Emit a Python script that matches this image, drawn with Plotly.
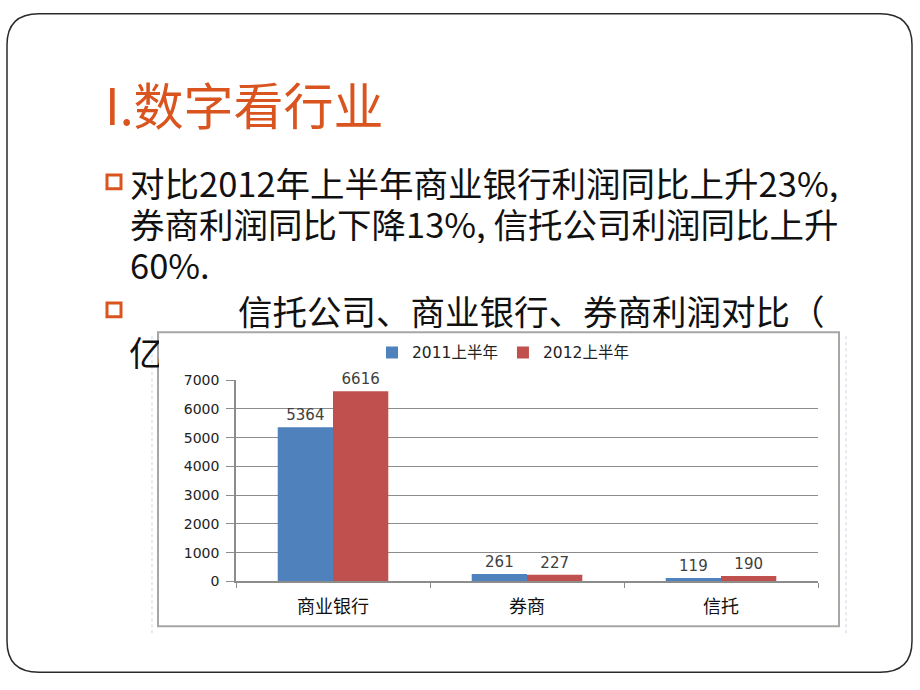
import plotly.graph_objects as go

# ---- data ----
categories = ["商业银行", "券商", "信托"]
series_names = ["2011上半年", "2012上半年"]
values_2011 = [5364, 261, 119]
values_2012 = [6616, 227, 190]
y_ticks = [0, 1000, 2000, 3000, 4000, 5000, 6000, 7000]

title_text = "I.数字看行业"
bullet_lines = [
    "对比2012年上半年商业银行利润同比上升23%,",
    "券商利润同比下降13%, 信托公司利润同比上升",
    "60%.",
]
bullet2_text = "信托公司、商业银行、券商利润对比（"
bullet2_cont = "亿"

W, H = 920, 690


def fx(x):
    return x / W


def fy(y):
    return 1 - y / H


BLUE = "#4F81BD"
RED = "#C0504D"
ORANGE = "#D9541E"
LABEL_FONT = "DejaVu Sans, Noto Sans CJK SC"
CJK_FONT = "Noto Sans CJK SC"
BODY_FONT = "Liberation Sans Narrow, Noto Sans CJK SC"

fig = go.Figure()
fig.add_trace(go.Bar(
    x=categories, y=values_2011, name=series_names[0],
    marker=dict(color=BLUE, line=dict(width=0)),
    text=[str(v) for v in values_2011], textposition="outside",
    textfont=dict(family=LABEL_FONT, size=15, color="#404040"),
    cliponaxis=False,
))
fig.add_trace(go.Bar(
    x=categories, y=values_2012, name=series_names[1],
    marker=dict(color=RED, line=dict(width=0)),
    text=[str(v) for v in values_2012], textposition="outside",
    textfont=dict(family=LABEL_FONT, size=15, color="#404040"),
    cliponaxis=False,
))

shapes = []
# slide rounded border
x0, y0, x1, y1, r = 7, 6, 912, 680, 32
path = (
    f"M {fx(x0 + r)},{fy(y0)} L {fx(x1 - r)},{fy(y0)} "
    f"Q {fx(x1)},{fy(y0)} {fx(x1)},{fy(y0 + r)} "
    f"L {fx(x1)},{fy(y1 - r)} "
    f"Q {fx(x1)},{fy(y1)} {fx(x1 - r)},{fy(y1)} "
    f"L {fx(x0 + r)},{fy(y1)} "
    f"Q {fx(x0)},{fy(y1)} {fx(x0)},{fy(y1 - r)} "
    f"L {fx(x0)},{fy(y0 + r)} "
    f"Q {fx(x0)},{fy(y0)} {fx(x0 + r)},{fy(y0)} Z"
)
shapes.append(dict(type="path", xref="paper", yref="paper", path=path,
                   line=dict(color="#2b2b2b", width=1.5), fillcolor="white", layer="below"))
# faint background grid lines around chart
for xx in (152, 846):
    shapes.append(dict(type="line", xref="paper", yref="paper",
                       x0=fx(xx), x1=fx(xx), y0=fy(336), y1=fy(640),
                       line=dict(color="#C9D3E6", width=1, dash="dot"), layer="below"))
# chart box
shapes.append(dict(type="rect", xref="paper", yref="paper",
                   x0=fx(158), x1=fx(839), y0=fy(633), y1=fy(332),
                   line=dict(color="#A6A6A6", width=2), fillcolor="white", layer="below"))
# bullet squares
for cy in (178, 309):
    shapes.append(dict(type="rect", xref="paper", yref="paper",
                       x0=fx(107), x1=fx(121), y0=fy(cy + 7), y1=fy(cy - 7),
                       line=dict(color=ORANGE, width=3), fillcolor="white"))

annotations = []
annotations.append(dict(text=title_text, x=fx(103), y=fy(97), xref="paper", yref="paper",
                        xanchor="left", yanchor="middle", showarrow=False,
                        font=dict(family=CJK_FONT, size=50, color=ORANGE)))
for i, line in enumerate(bullet_lines):
    annotations.append(dict(text=line, x=fx(128), y=fy(178 + 42 * i), xref="paper", yref="paper",
                            xanchor="left", yanchor="middle", showarrow=False, height=40,
                            font=dict(family=BODY_FONT, size=34.5, color="#111111")))
annotations.append(dict(text=bullet2_text, x=fx(236), y=fy(309), xref="paper", yref="paper",
                        xanchor="left", yanchor="middle", showarrow=False, height=40,
                        font=dict(family=BODY_FONT, size=34.5, color="#111111")))
annotations.append(dict(text=bullet2_cont, x=fx(127), y=fy(351), xref="paper", yref="paper",
                        xanchor="left", yanchor="middle", showarrow=False, width=30, height=40,
                        align="left",
                        font=dict(family=BODY_FONT, size=34.5, color="#111111")))

fig.update_layout(
    width=W, height=H,
    margin=dict(l=0, r=0, t=0, b=0),
    paper_bgcolor="white",
    plot_bgcolor="rgba(0,0,0,0)",
    barmode="group",
    bargap=0.43,
    bargroupgap=0,
    showlegend=True,
    legend=dict(orientation="h", x=fx(503), xanchor="center", y=fy(353), yanchor="middle",
                font=dict(family=LABEL_FONT, size=15.5, color="#222222"),
                itemwidth=30, bgcolor="rgba(0,0,0,0)", traceorder="normal"),
    xaxis=dict(domain=[fx(236), fx(818)], showline=True, linecolor="#8C8C8C", linewidth=1.5,
               ticks="outside", tickson="boundaries", ticklen=5, tickcolor="#8C8C8C",
               ticklabelstandoff=8,
               tickfont=dict(family=CJK_FONT, size=18, color="#111111"),
               showgrid=False, zeroline=False, fixedrange=True),
    yaxis=dict(domain=[fy(587), fy(381)], range=[0, 7000], tickvals=y_ticks,
               showline=True, linecolor="#8C8C8C", linewidth=1.5,
               ticks="outside", ticklen=8, tickcolor="#8C8C8C",
               showgrid=True, gridcolor="#8C8C8C", gridwidth=1,
               zeroline=False, ticklabelstandoff=4,
               tickfont=dict(family=LABEL_FONT, size=14, color="#222222"),
               fixedrange=True),
    shapes=shapes,
    annotations=annotations,
)

fig.write_html(
    "out.html",
    config={"displayModeBar": False},
    post_script="document.body.style.margin='0';document.body.style.overflow='hidden';",
)
